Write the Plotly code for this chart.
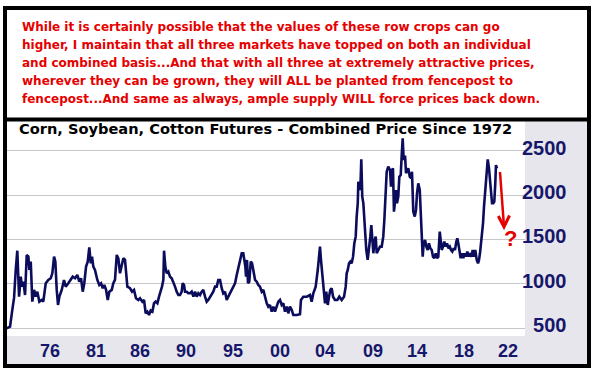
import plotly.graph_objects as go

# ---------------- data ----------------
years_70s = [1972.34, 1972.68, 1972.91, 1973.09, 1973.26, 1973.42, 1973.60, 1973.77, 1973.90,
             1974.04, 1974.21, 1974.38, 1974.55, 1974.65, 1974.79, 1974.95, 1975.13, 1975.30,
             1975.46, 1975.67, 1975.91, 1976.07, 1976.32, 1976.58, 1976.83, 1976.99, 1977.17,
             1977.30, 1977.44, 1977.57, 1977.71, 1977.95, 1978.18, 1978.36, 1978.62, 1978.87,
             1979.07, 1979.31, 1979.54, 1979.74, 1979.92]
price_70s = [502, 520, 708, 843, 1157, 1374, 857, 1082, 970,
             1026, 876, 1326, 1307, 1157, 1251, 801, 933, 857,
             913, 801, 820, 801, 1008, 1045, 1064, 1120, 1307,
             1251, 933, 764, 857, 933, 1045, 970, 1008, 1045,
             1082, 1064, 1101, 1026, 1064]

years_80s = [1980.09, 1980.25, 1980.43, 1980.60, 1980.76, 1980.91,
             1981.04, 1981.17, 1981.34, 1981.58, 1981.78, 1981.96,
             1982.13, 1982.29, 1982.47, 1982.64, 1982.80,
             1983.05, 1983.21, 1983.38, 1983.56, 1983.72, 1983.89,
             1984.07, 1984.23, 1984.40, 1984.50, 1984.64, 1984.91,
             1985.12, 1985.32, 1985.52, 1985.76, 1985.93,
             1986.17, 1986.34, 1986.51, 1986.68, 1986.85,
             1987.02, 1987.19, 1987.36, 1987.53, 1987.70, 1987.87,
             1988.04, 1988.17, 1988.31, 1988.38, 1988.51, 1988.65, 1988.82, 1988.99,
             1989.16, 1989.33, 1989.50, 1989.67, 1989.84]
price_80s = [913, 1008, 1195, 1251, 1412, 1232,
             1307, 1195, 1157, 1045, 989, 1008,
             952, 989, 933, 820, 913,
             933, 1008, 1045, 1326, 1289, 1120,
             1232, 1289, 1270, 1120, 970, 952,
             913, 933, 839, 820, 839,
             801, 820, 670, 689, 651,
             701, 689, 783, 801, 783, 857,
             913, 970, 1045, 1374, 1195, 1120, 1139, 1082,
             1064, 1026, 970, 913, 876]

years_90s = [1990.01, 1990.18, 1990.28, 1990.42, 1990.52, 1990.69, 1990.86,
             1991.03, 1991.20, 1991.37, 1991.54, 1991.71, 1991.88,
             1992.05, 1992.22, 1992.38, 1992.56, 1992.73, 1992.89,
             1993.07, 1993.24, 1993.40, 1993.58, 1993.75, 1993.91,
             1994.09, 1994.26, 1994.42, 1994.60, 1994.77, 1994.93,
             1995.11, 1995.28, 1995.44, 1995.62, 1995.79, 1995.95,
             1996.13, 1996.30, 1996.46, 1996.56, 1996.67, 1996.74, 1996.84, 1996.94,
             1997.07, 1997.22, 1997.35, 1997.48, 1997.66, 1997.83, 1997.99,
             1998.16, 1998.34, 1998.50, 1998.67, 1998.85,
             1999.01, 1999.18, 1999.36, 1999.52, 1999.69, 1999.87]
price_90s = [876, 913, 1008, 989, 913, 913, 895,
             895, 913, 857, 913, 857, 895,
             876, 913, 933, 857, 801, 820,
             857, 876, 913, 970, 970, 1045,
             1045, 952, 895, 913, 820, 857,
             895, 933, 970, 1008, 1101, 1176,
             1251, 1345, 1345, 1289, 1195, 1082, 1270, 1008,
             1026, 1251, 1232, 1157, 1045, 1026, 989,
             970, 913, 933, 857, 783,
             745, 764, 689, 745, 689, 745]

years_00s = [2000.03, 2000.20, 2000.38, 2000.54, 2000.71, 2000.89,
             2001.05, 2001.22, 2001.40, 2001.56, 2001.91,
             2002.24, 2002.34, 2002.58, 2002.93,
             2003.26, 2003.43, 2003.60, 2003.84,
             2004.05, 2004.18, 2004.28, 2004.38, 2004.52, 2004.66, 2004.79, 2004.92,
             2005.07, 2005.20, 2005.33, 2005.47, 2005.61, 2005.81,
             2006.05, 2006.25, 2006.49, 2006.73, 2006.90,
             2007.00, 2007.11, 2007.24, 2007.37, 2007.51, 2007.65, 2007.78, 2007.92,
             2008.02, 2008.13, 2008.19, 2008.29, 2008.39, 2008.49, 2008.59, 2008.70, 2008.80, 2008.90,
             2009.00, 2009.14, 2009.28, 2009.41, 2009.51, 2009.61, 2009.72, 2009.82, 2009.96]
price_00s = [801, 820, 764, 783, 689, 745,
             670, 745, 708, 651, 651,
             660, 820, 857, 857,
             876, 801, 895, 970,
             1157, 1307, 1420, 1270, 1082, 876, 783, 913,
             764, 857, 933, 952, 857, 820,
             820, 857, 820, 857, 970,
             1120, 1157, 1232, 1251, 1232, 1307, 1457, 1532,
             1757, 1907, 2150, 2094, 2056, 2401, 1982, 1907, 1682, 1457,
             1382, 1270, 1382, 1532, 1663, 1532, 1345, 1476, 1532]

years_10s = [2010.06, 2010.23, 2010.40, 2010.57, 2010.73, 2010.84, 2010.94,
             2011.08, 2011.24, 2011.42, 2011.52, 2011.62, 2011.72, 2011.82, 2011.93,
             2012.03, 2012.13, 2012.26, 2012.37, 2012.51, 2012.61, 2012.71, 2012.81, 2012.95,
             2013.05, 2013.15, 2013.28, 2013.43, 2013.56, 2013.66, 2013.79, 2013.94,
             2014.07, 2014.17, 2014.30, 2014.45, 2014.55, 2014.65, 2014.75, 2014.85, 2014.99,
             2015.12, 2015.26, 2015.39, 2015.53, 2015.67, 2015.80, 2015.93,
             2016.08, 2016.21, 2016.34, 2016.49, 2016.59, 2016.69, 2016.82, 2016.95,
             2017.10, 2017.23, 2017.36, 2017.51, 2017.64, 2017.77, 2017.91,
             2018.04, 2018.18, 2018.28, 2018.38, 2018.48, 2018.62, 2018.76, 2018.89,
             2019.03, 2019.16, 2019.30, 2019.44, 2019.57, 2019.71, 2019.85, 2019.98]
price_10s = [1345, 1382, 1420, 1420, 1532, 1719, 2019,
             2262, 2318, 2281, 2094, 2281, 2300, 1813, 1925,
             2056, 1907, 1982, 2206, 2225, 2443, 2637, 2394, 2443,
             2244, 2281, 2300, 2206, 2190, 2262, 1813, 1757,
             1832, 2019, 2131, 2056, 1757, 1532, 1307, 1457, 1494,
             1420, 1382, 1457, 1401, 1382, 1307, 1289,
             1345, 1289, 1307, 1588, 1457, 1382, 1420, 1476,
             1420, 1457, 1401, 1420, 1382, 1364, 1401,
             1382, 1476, 1513, 1457, 1382, 1289, 1345, 1289,
             1345, 1307, 1364, 1307, 1345, 1307, 1382, 1307]

years_20s = [2020.11, 2020.26, 2020.39, 2020.49, 2020.59, 2020.69, 2020.80, 2020.90,
             2021.00, 2021.10, 2021.20, 2021.38, 2021.51, 2021.61, 2021.71, 2021.82, 2021.95,
             2022.05, 2022.15, 2022.22, 2022.32]
price_20s = [1382, 1270, 1232, 1270, 1345, 1457, 1532, 1682,
             1869, 2019, 2131, 2401, 2300, 2169, 2056, 1907, 1907,
             1925, 2131, 2337, 2300]

x_tick_labels = ["76", "81", "86", "90", "95", "00", "04", "09", "14", "18", "22"]
x_tick_at = [1976.76, 1981.45, 1985.93, 1990.62, 1995.41, 2000.20,
             2004.79, 2009.68, 2014.17, 2018.96, 2023.44]
y_ticks = [500, 1000, 1500, 2000, 2500]
y_tick_labels = ["\u2007500", "1000", "1500", "2000", "2500"]

title_text = "Corn, Soybean, Cotton Futures - Combined Price Since 1972"
note_lines = [
    "While it is certainly possible that the values of these row crops can go",
    "higher, I maintain that all three markets have topped on both an individual",
    "and combined basis...And that with all three at extremely attractive prices,",
    "wherever they can be grown, they will <b>ALL</b> be planted from fencepost to",
    "fencepost...And same as always, ample supply <b>WILL</b> force prices back down.",
]

years = years_70s + years_80s + years_90s + years_00s + years_10s + years_20s
price = price_70s + price_80s + price_90s + price_00s + price_10s + price_20s
assert len(years) == len(price)

# ---------------- layout geometry (pixels) ----------------
W, H = 595, 371
L, R, T, B = 7, 525, 121, 336
NAVY = "#16166a"
RED = "#e60000"
GRAY = "#e6e6ec"


def px(x):
    return (x - L) / (R - L)


def py(y):
    return (B - y) / (B - T)


fig = go.Figure()
fig.add_trace(go.Scatter(
    x=years, y=price, mode="lines",
    line=dict(color="#0c0c5c", width=2.6),
    hoverinfo="skip", showlegend=False,
))

shapes = [
    dict(type="rect", xref="paper", yref="paper", x0=px(525), x1=px(588), y0=py(365), y1=py(121),
         fillcolor=GRAY, line=dict(width=0), layer="below"),
    dict(type="rect", xref="paper", yref="paper", x0=px(7), x1=px(588), y0=py(365), y1=py(336),
         fillcolor=GRAY, line=dict(width=0), layer="below"),
    dict(type="rect", xref="paper", yref="paper", x0=px(5), x1=px(589), y0=py(366), y1=py(8),
         fillcolor="rgba(0,0,0,0)", line=dict(color="black", width=4)),
    dict(type="line", xref="paper", yref="paper", x0=px(5), x1=px(589), y0=py(119.5), y1=py(119.5),
         line=dict(color="black", width=4)),
    # red arrow
    dict(type="line", xref="paper", yref="paper", x0=px(500), x1=px(503.8), y0=py(172), y1=py(224),
         line=dict(color=RED, width=2.5)),
    dict(type="path", xref="paper", yref="paper",
         path=f"M {px(498.3)},{py(216)} L {px(504)},{py(227)} L {px(509.5)},{py(215.5)}",
         line=dict(color=RED, width=3)),
]

annotations = []
for i, line in enumerate(note_lines):
    annotations.append(dict(
        xref="paper", yref="paper", x=px(20), y=py(26.7 + i * 18.1),
        xanchor="left", yanchor="middle", showarrow=False,
        text=f"<b>{line}</b>",
        font=dict(family="DejaVu Sans", size=12, color=RED),
    ))
annotations.append(dict(
    xref="paper", yref="paper", x=px(17), y=py(128), xanchor="left", yanchor="middle",
    showarrow=False, text=f"<b>{title_text}</b>",
    font=dict(family="DejaVu Sans", size=14.6, color="black"),
))
annotations.append(dict(
    xref="paper", yref="paper", x=px(510), y=py(238.5), xanchor="center", yanchor="middle",
    showarrow=False, text="<b>?</b>",
    font=dict(family="Liberation Sans", size=22, color=RED),
))

fig.update_layout(
    width=W, height=H,
    margin=dict(l=L, r=W - R, t=T, b=H - B, pad=0),
    paper_bgcolor="white", plot_bgcolor="white",
    shapes=shapes, annotations=annotations,
    xaxis=dict(
        range=[1972.37, 2025.18], tickmode="array", tickvals=x_tick_at, ticktext=x_tick_labels,
        showgrid=False, zeroline=False, showline=False, ticks="",
        tickfont=dict(family="Liberation Sans", size=18, color=NAVY, weight="bold"),
        ticklabelstandoff=2,
    ),
    yaxis=dict(
        range=[415, 2832], side="right", tickmode="array", tickvals=y_ticks, ticktext=y_tick_labels,
        showgrid=True, gridcolor="#c6c6c6", gridwidth=1, zeroline=False, showline=False,
        ticks="", ticklabelposition="outside", ticklabelstandoff=-4, ticklabelshift=-3,
        tickfont=dict(family="Liberation Sans", size=20, color=NAVY, weight="bold"),
    ),
    showlegend=False,
)

fig.write_html("out.html", config={"displayModeBar": False},
               post_script="document.body.style.margin='0';")
